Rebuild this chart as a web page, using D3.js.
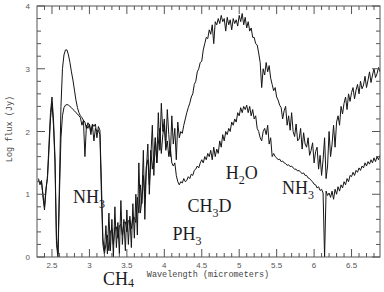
<!DOCTYPE html>
<html>
<head>
<meta charset="utf-8">
<script src="https://cdn.jsdelivr.net/npm/d3@7"></script>
<style>
  body { margin: 0; background: #fff; }
  svg { display: block; }
</style>
</head>
<body>
<div id="chart"></div>
<script>
/* ------------------------------------------------ Data ------------------------------------------------ */

// spectra sampled every 0.02 micrometers, starting at 2.32
const WL_START = 2.32;
const WL_STEP = 0.02;

const upperFlux = [
    1.25, 1.15, 1.22, 0.95, 0.75, 1.05, 1.3, 1.8, 2.3, 2.55,
    2.2, 1.6, 0.3, 0.05, 1.2, 2.4, 3.0, 3.22, 3.3, 3.3,
    3.22, 3.1, 2.95, 2.82, 2.66, 2.5, 2.38, 2.3, 2.25, 2.22,
    2.18, 2.15, 2.05, 2.14, 2.1, 1.95, 2.12, 2.08, 2.12, 1.9,
    2.08, 2.02, 1.2, 0.3, 0.1, 0.5, 0.05, 0.7, 0.1, 0.6,
    0.0, 0.8, 0.15, 0.55, 0.05, 0.9, 0.2, 0.6, 0.1, 0.75,
    0.2, 0.65, 0.15, 0.85, 0.3, 1.0, 0.35, 1.5, 0.7, 0.9,
    1.7, 0.6, 1.4, 1.8, 1.0, 1.6, 2.1, 1.3, 1.9, 1.5,
    2.3, 1.7, 2.45, 2.0, 2.2, 1.75, 2.35, 1.95, 1.6, 2.25,
    1.8, 2.05, 1.55, 2.15, 1.9, 2.0, 1.97, 2.1, 2.2, 2.3,
    2.38, 2.45, 2.55, 2.6, 2.75, 2.8, 2.95, 3.0, 3.1, 3.12,
    3.3, 3.4, 3.5, 3.48, 3.62, 3.55, 3.7, 3.4, 3.75, 3.7,
    3.8, 3.72, 3.85, 3.75, 3.8, 3.6, 3.82, 3.7, 3.78, 3.62,
    3.8, 3.72, 3.78, 3.68, 3.85, 3.75, 3.88, 3.7, 3.82, 3.65,
    3.75, 3.6, 3.65, 3.5, 3.5, 3.4, 3.38, 3.25, 3.1, 2.7,
    3.0, 2.9, 3.1, 2.95, 3.05, 2.85, 2.75, 2.65, 2.7, 2.55,
    2.5, 2.42, 2.38, 2.2, 2.33, 2.4, 2.1, 2.25, 2.02, 2.3,
    2.0, 1.92, 2.12, 1.85, 1.88, 2.05, 1.72, 1.98, 1.8, 1.75,
    1.9, 1.62, 1.7, 1.82, 1.5, 1.68, 1.75, 1.4, 1.62, 1.3,
    1.55, 1.9, 1.25, 1.45, 2.0, 1.6, 1.8, 2.1, 1.75, 2.15,
    2.25, 2.1, 2.4, 2.28, 2.45, 2.55, 2.35, 2.6, 2.48, 2.62,
    2.7, 2.52, 2.66, 2.75, 2.6, 2.8, 2.68, 2.74, 2.88, 2.7,
    2.82, 2.95, 2.78, 2.9, 3.0, 2.86, 2.92, 3.02, 2.95
];

const lowerFlux = [
    1.22, 1.18, 1.2, 1.0, 0.8, 1.1, 1.25, 1.7, 2.2, 2.45,
    2.1, 1.5, 0.2, 0.0, 1.0, 1.9, 2.25, 2.38, 2.42, 2.43,
    2.42, 2.4, 2.38, 2.35, 2.33, 2.3, 2.28, 2.25, 2.22, 2.1,
    2.18, 1.6, 2.1, 2.05, 2.12, 2.0, 2.1, 1.85, 2.05, 2.0,
    2.02, 1.95, 1.0, 0.2, 0.05, 0.2, 0.35, 0.1, 0.4, 0.45,
    0.2, 0.47, 0.48, 0.3, 0.5, 0.52, 0.35, 0.55, 0.56, 0.4,
    0.58, 0.6, 0.45, 0.62, 0.63, 0.55, 0.95, 0.7, 1.15, 0.85,
    1.3, 0.95, 1.45, 1.55, 1.15, 1.7, 1.4, 1.6, 1.9, 1.5,
    1.8, 2.05, 1.65, 1.95, 2.1, 1.7, 1.85, 1.6, 1.75, 1.5,
    1.45, 1.5, 1.3, 1.2, 1.15, 1.2, 1.18, 1.25, 1.2, 1.22,
    1.28, 1.25, 1.32, 1.3, 1.38, 1.4, 1.45, 1.42, 1.5, 1.55,
    1.5, 1.6, 1.55, 1.65, 1.6, 1.7, 1.55, 1.75, 1.6, 1.72,
    1.65, 1.85, 1.75, 1.95, 1.85, 2.0, 1.95, 2.05, 2.0, 2.15,
    2.1, 2.2, 2.15, 2.3, 2.25, 2.38, 2.3, 2.4, 2.35, 2.42,
    2.3, 2.4, 2.25, 2.35, 2.2, 2.25, 2.05, 2.0, 1.9, 1.85,
    2.0, 2.05, 1.95, 2.1, 1.8, 1.9, 1.6, 1.65, 1.6, 1.58,
    1.55, 1.56, 1.52, 1.53, 1.5, 1.49, 1.46, 1.47, 1.44, 1.45,
    1.42, 1.4, 1.4, 1.37, 1.38, 1.35, 1.33, 1.34, 1.3, 1.3,
    1.26, 1.25, 1.22, 1.2, 1.16, 1.15, 1.1, 1.12, 1.06, 1.08,
    1.02, 0.0, 1.05, 0.98, 1.02, 0.95, 1.05, 0.92, 1.08, 1.0,
    1.12, 1.05, 1.15, 1.1, 1.2, 1.15, 1.25, 1.2, 1.3, 1.28,
    1.35, 1.3, 1.38, 1.35, 1.42, 1.38, 1.45, 1.42, 1.5, 1.45,
    1.52, 1.48, 1.55, 1.5, 1.58, 1.52, 1.6, 1.55, 1.62
];

const xTickLabels = [2.5, 3, 3.5, 4, 4.5, 5, 5.5, 6, 6.5];
const yTickLabels = [0, 1, 2, 3, 4];

// molecule labels: base text, subscript, trailing text, anchor in wavelength / flux
const molecules = [
    { base: 'NH', sub: '3', tail: '', wl: 2.78, flux: 0.86 },
    { base: 'CH', sub: '4', tail: '', wl: 3.18, flux: -0.45 },
    { base: 'PH', sub: '3', tail: '', wl: 4.11, flux: 0.27 },
    { base: 'CH', sub: '3', tail: 'D', wl: 4.31, flux: 0.72 },
    { base: 'H', sub: '2', tail: 'O', wl: 4.82, flux: 1.24 },
    { base: 'NH', sub: '3', tail: '', wl: 5.57, flux: 1.01 }
];

/* ------------------------------------------------ Chart ------------------------------------------------ */

const width = 384;
const height = 292;
const margin = { top: 6, right: 4, bottom: 35, left: 37 };

const svg = d3.select('#chart').append('svg')
    .attr('width', width)
    .attr('height', height);

const xScale = d3.scaleLinear()
    .domain([2.3, 6.88])
    .range([margin.left, width - margin.right]);

const yScale = d3.scaleLinear()
    .domain([0, 4])
    .range([height - margin.bottom, margin.top]);

const x0 = margin.left, x1 = width - margin.right;
const y0 = height - margin.bottom, y1 = margin.top;

// clip the spectra to the frame
svg.append('clipPath').attr('id', 'plot-clip')
    .append('rect')
    .attr('x', x0).attr('y', y1)
    .attr('width', x1 - x0).attr('height', y0 - y1);

const line = d3.line()
    .x((d, i) => xScale(WL_START + i * WL_STEP))
    .y(d => yScale(d));

[lowerFlux, upperFlux].forEach(function (series) {
    svg.append('path')
        .datum(series)
        .attr('clip-path', 'url(#plot-clip)')
        .attr('fill', 'none')
        .attr('stroke', '#151515')
        .attr('stroke-width', 1)
        .attr('stroke-linejoin', 'round')
        .attr('d', line);
});

/* frame with inward ticks on all four sides */
svg.append('rect')
    .attr('x', x0).attr('y', y1)
    .attr('width', x1 - x0).attr('height', y0 - y1)
    .attr('fill', 'none')
    .attr('stroke', '#555')
    .attr('stroke-width', 1);

const xMinor = d3.range(24, 69).map(d => d / 10);
const tickLen = d => (Math.abs(d * 2 - Math.round(d * 2)) < 1e-6 ? 8 : 4);

svg.append('g').selectAll('line')
    .data(xMinor)
    .enter().append('line')
    .attr('x1', d => xScale(d)).attr('x2', d => xScale(d))
    .attr('y1', y0).attr('y2', d => y0 - tickLen(d))
    .attr('stroke', '#555');

svg.append('g').selectAll('line')
    .data(xMinor)
    .enter().append('line')
    .attr('x1', d => xScale(d)).attr('x2', d => xScale(d))
    .attr('y1', y1).attr('y2', d => y1 + tickLen(d))
    .attr('stroke', '#555');

const yMinor = d3.range(0, 21).map(d => d / 5);
const yTickLen = d => (Math.abs(d - Math.round(d)) < 1e-6 ? 8 : 4);

svg.append('g').selectAll('line')
    .data(yMinor)
    .enter().append('line')
    .attr('x1', x0).attr('x2', d => x0 + yTickLen(d))
    .attr('y1', d => yScale(d)).attr('y2', d => yScale(d))
    .attr('stroke', '#555');

svg.append('g').selectAll('line')
    .data(yMinor)
    .enter().append('line')
    .attr('x1', x1).attr('x2', d => x1 - yTickLen(d))
    .attr('y1', d => yScale(d)).attr('y2', d => yScale(d))
    .attr('stroke', '#555');

/* tick labels */
svg.append('g').selectAll('text')
    .data(xTickLabels)
    .enter().append('text')
    .attr('x', d => xScale(d))
    .attr('y', y0 + 11)
    .attr('text-anchor', 'middle')
    .style('font-family', 'Liberation Sans, Arial, sans-serif')
    .style('font-size', '8px')
    .style('fill', '#555')
    .text(d => d);

svg.append('g').selectAll('text')
    .data(yTickLabels)
    .enter().append('text')
    .attr('x', x0 - 7)
    .attr('y', d => yScale(d) + 3)
    .attr('text-anchor', 'end')
    .style('font-family', 'Liberation Sans, Arial, sans-serif')
    .style('font-size', '8px')
    .style('fill', '#555')
    .text(d => d);

/* axis titles */
svg.append('text')
    .attr('x', 208)
    .attr('y', 277)
    .attr('text-anchor', 'middle')
    .style('font-family', 'Liberation Mono, DejaVu Sans Mono, monospace')
    .style('font-size', '8.5px')
    .style('fill', '#444')
    .text('Wavelength (micrometers)');

svg.append('text')
    .attr('transform', 'translate(12, 129) rotate(-90)')
    .attr('text-anchor', 'middle')
    .style('font-family', 'Liberation Mono, DejaVu Sans Mono, monospace')
    .style('font-size', '8.5px')
    .style('fill', '#444')
    .text('Log flux (Jy)');

/* molecule annotations */
const labels = svg.append('g')
    .style('font-family', 'Liberation Serif, Times New Roman, serif')
    .style('fill', '#1c1c24');

molecules.forEach(function (m) {
    const low = m.flux < 0;
    const t = labels.append('text')
        .attr('x', xScale(m.wl))
        .attr('y', yScale(m.flux))
        .style('font-size', '18px');
    t.append('tspan').text(m.base);
    t.append('tspan')
        .attr('dy', low ? 2 : 5)
        .style('font-size', '12px')
        .text(m.sub);
    if (m.tail) {
        t.append('tspan')
            .attr('dy', -5)
            .text(m.tail);
    }
});
</script>
</body>
</html>
